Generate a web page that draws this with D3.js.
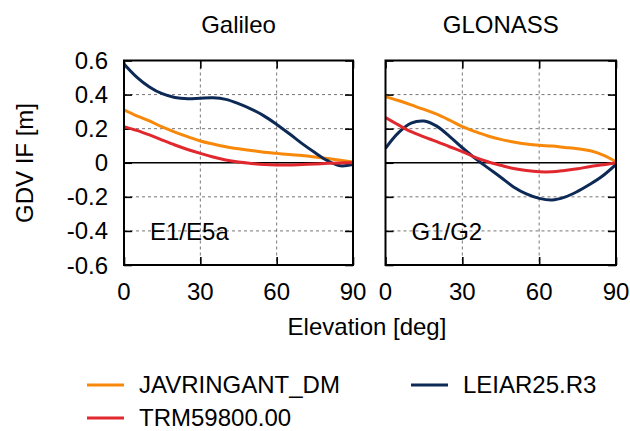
<!DOCTYPE html>
<html>
<head>
<meta charset="utf-8">
<script src="https://cdn.jsdelivr.net/npm/d3@7"></script>
<style>
  body { margin: 0; background: #fff; }
  svg text { font-family: "Liberation Sans", Arial, Helvetica, sans-serif; fill: #000; }
</style>
</head>
<body>
<div id="chart"></div>
<script>
// elevation angles (deg)
var elevation = [0, 5, 10, 15, 20, 25, 30, 35, 40, 45, 50, 55, 60, 65, 70, 75, 80, 85, 90];

// Galileo E1/E5a
var galJAV = [0.31, 0.275, 0.245, 0.21, 0.18, 0.153, 0.128, 0.11, 0.094, 0.082, 0.072, 0.062, 0.055, 0.048, 0.042, 0.034, 0.025, 0.015, 0.005];
var galTRM = [0.212, 0.19, 0.163, 0.133, 0.104, 0.078, 0.055, 0.034, 0.016, 0.004, -0.004, -0.01, -0.013, -0.013, -0.01, -0.007, -0.003, -0.001, 0];
var galLEI = [0.58, 0.503, 0.445, 0.405, 0.383, 0.376, 0.379, 0.381, 0.372, 0.347, 0.315, 0.275, 0.225, 0.17, 0.112, 0.06, 0.012, -0.018, -0.01];

// GLONASS G1/G2
var gloJAV = [0.388, 0.365, 0.34, 0.313, 0.285, 0.25, 0.212, 0.183, 0.157, 0.137, 0.122, 0.11, 0.102, 0.098, 0.09, 0.082, 0.07, 0.045, 0.006];
var gloTRM = [0.265, 0.222, 0.182, 0.152, 0.124, 0.094, 0.065, 0.032, 0.006, -0.015, -0.034, -0.046, -0.053, -0.053, -0.045, -0.035, -0.022, -0.012, 0];
var gloLEI = [0.085, 0.175, 0.232, 0.245, 0.215, 0.155, 0.088, 0.026, -0.03, -0.085, -0.142, -0.183, -0.209, -0.219, -0.202, -0.168, -0.125, -0.075, -0.01];

var systems = ["Galileo", "GLONASS"];
var signals = ["E1/E5a", "G1/G2"];
var antennas = ["JAVRINGANT_DM", "TRM59800.00", "LEIAR25.R3"];
var xTicks = [0, 30, 60, 90];
var yTicks = [-0.6, -0.4, -0.2, 0, 0.2, 0.4, 0.6];
var yTickLabels = ["-0.6", "-0.4", "-0.2", "0", "0.2", "0.4", "0.6"];

var colors = { "JAVRINGANT_DM": "#f7880a", "TRM59800.00": "#e0282e", "LEIAR25.R3": "#0d2a57" };

var panelData = [
  { "JAVRINGANT_DM": galJAV, "TRM59800.00": galTRM, "LEIAR25.R3": galLEI },
  { "JAVRINGANT_DM": gloJAV, "TRM59800.00": gloTRM, "LEIAR25.R3": gloLEI }
];
var drawOrder = ["JAVRINGANT_DM", "LEIAR25.R3", "TRM59800.00"];

var width = 630, height = 431;
var panels = [{ x0: 124, x1: 353 }, { x0: 385.5, x1: 616 }];
var plotTop = 60.5, plotBottom = 265;

var svg = d3.select("#chart").append("svg")
  .attr("width", width)
  .attr("height", height);

var y = d3.scaleLinear().domain([-0.6, 0.6]).range([plotBottom, plotTop]);

function tickStyle(a) {
  a.select(".domain").remove();
  a.selectAll("line").attr("stroke", "#000").attr("stroke-width", 1.6);
}

panels.forEach(function (p, i) {
  var x = d3.scaleLinear().domain([0, 90]).range([p.x0, p.x1]);
  var g = svg.append("g");

  g.append("clipPath").attr("id", "clip" + i)
    .append("rect")
    .attr("x", p.x0).attr("y", plotTop)
    .attr("width", p.x1 - p.x0).attr("height", plotBottom - plotTop);

  // dashed grid
  g.selectAll("line.gx").data([30, 60]).enter().append("line")
    .attr("x1", function (d) { return x(d); }).attr("x2", function (d) { return x(d); })
    .attr("y1", plotTop).attr("y2", plotBottom)
    .attr("stroke", "#777").attr("stroke-width", 1).attr("stroke-dasharray", "3,3");
  g.selectAll("line.gy").data([-0.4, -0.2, 0.2, 0.4]).enter().append("line")
    .attr("x1", p.x0).attr("x2", p.x1)
    .attr("y1", function (d) { return y(d); }).attr("y2", function (d) { return y(d); })
    .attr("stroke", "#777").attr("stroke-width", 1).attr("stroke-dasharray", "3,3");

  // zero line
  g.append("line")
    .attr("x1", p.x0).attr("x2", p.x1)
    .attr("y1", y(0)).attr("y2", y(0))
    .attr("stroke", "#000").attr("stroke-width", 1.6);

  // inward ticks on all sides
  var tl = 8;
  g.append("g").attr("transform", "translate(0," + plotBottom + ")")
    .call(d3.axisTop(x).tickValues(xTicks).tickSize(tl).tickFormat(""))
    .call(tickStyle);
  g.append("g").attr("transform", "translate(0," + plotTop + ")")
    .call(d3.axisBottom(x).tickValues(xTicks).tickSize(tl).tickFormat(""))
    .call(tickStyle);
  g.append("g").attr("transform", "translate(" + p.x0 + ",0)")
    .call(d3.axisRight(y).tickValues(yTicks).tickSize(tl).tickFormat(""))
    .call(tickStyle);
  g.append("g").attr("transform", "translate(" + p.x1 + ",0)")
    .call(d3.axisLeft(y).tickValues(yTicks).tickSize(tl).tickFormat(""))
    .call(tickStyle);

  // x tick labels
  g.selectAll("text.xt").data(xTicks).enter().append("text")
    .attr("x", function (d) { return x(d); })
    .attr("y", 300)
    .attr("text-anchor", "middle")
    .style("font-size", "24px")
    .text(function (d) { return d; });

  // curves
  var line = d3.line()
    .x(function (d) { return x(d[0]); })
    .y(function (d) { return y(d[1]); })
    .curve(d3.curveCatmullRom.alpha(0.5));

  var lines = g.append("g").attr("clip-path", "url(#clip" + i + ")");
  drawOrder.forEach(function (name) {
    var pts = elevation.map(function (e, k) { return [e, panelData[i][name][k]]; });
    lines.append("path")
      .attr("d", line(pts))
      .attr("fill", "none")
      .attr("stroke", colors[name])
      .attr("stroke-width", 3)
      .attr("stroke-linejoin", "round");
  });

  // frame
  g.append("rect")
    .attr("x", p.x0).attr("y", plotTop)
    .attr("width", p.x1 - p.x0).attr("height", plotBottom - plotTop)
    .attr("fill", "none").attr("stroke", "#000").attr("stroke-width", 2);

  // title
  g.append("text")
    .attr("x", (p.x0 + p.x1) / 2)
    .attr("y", 33)
    .attr("text-anchor", "middle")
    .style("font-size", "24px")
    .text(systems[i]);

  // signal label
  g.append("text")
    .attr("x", p.x0 + 26)
    .attr("y", 240)
    .style("font-size", "24px")
    .text(signals[i]);
});

// y tick labels on the left panel
svg.selectAll("text.yt").data(yTicks).enter().append("text")
  .attr("x", 108)
  .attr("y", function (d) { return y(d) + 8.5; })
  .attr("text-anchor", "end")
  .style("font-size", "24px")
  .text(function (d, k) { return yTickLabels[k]; });

// axis titles
svg.append("text")
  .attr("transform", "translate(33,163) rotate(-90)")
  .attr("text-anchor", "middle")
  .style("font-size", "24px")
  .text("GDV IF [m]");

svg.append("text")
  .attr("x", 367)
  .attr("y", 335)
  .attr("text-anchor", "middle")
  .style("font-size", "24px")
  .text("Elevation [deg]");

// legend
var legendPos = [
  { x: 87, y: 385 },
  { x: 87, y: 418 },
  { x: 411, y: 385 }
];
antennas.forEach(function (name, k) {
  var lp = legendPos[k];
  svg.append("line")
    .attr("x1", lp.x).attr("x2", lp.x + 37)
    .attr("y1", lp.y).attr("y2", lp.y)
    .attr("stroke", colors[name]).attr("stroke-width", 3);
  svg.append("text")
    .attr("x", lp.x + 52)
    .attr("y", lp.y + 8)
    .style("font-size", "24px")
    .text(name);
});
</script>
</body>
</html>
